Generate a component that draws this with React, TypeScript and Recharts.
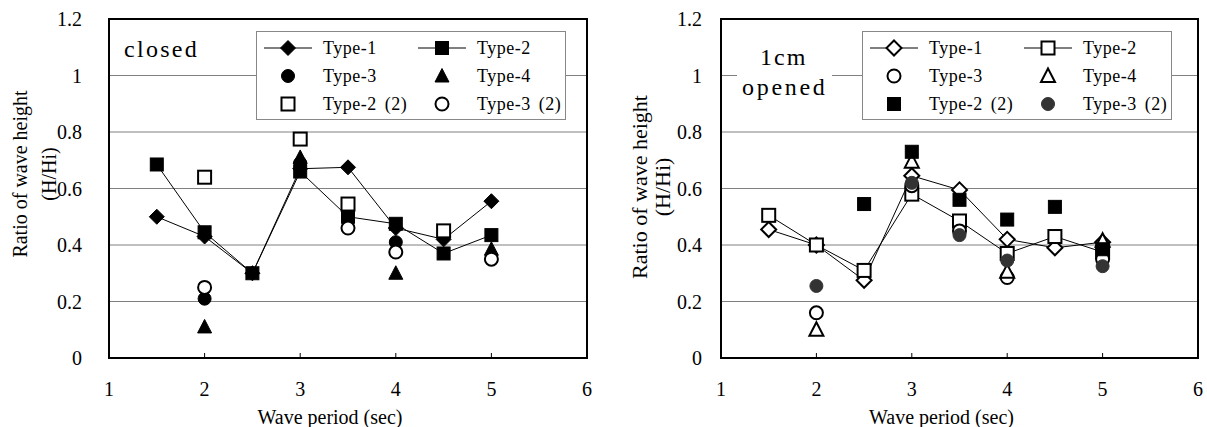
import React from "react";
import { CartesianGrid, Label, ReferenceArea, Scatter, ScatterChart, XAxis, YAxis } from "recharts";

// wave periods (sec) shared by every series
const periods = [1.5, 2, 2.5, 3, 3.5, 4, 4.5, 5];

// closed
const closedType1 = [0.5, 0.43, 0.3, 0.67, 0.675, 0.46, 0.42, 0.555];
const closedType2 = [0.685, 0.445, 0.3, 0.66, 0.5, 0.475, 0.37, 0.435];
const closedType3 = [null, 0.21, null, 0.69, 0.49, 0.41, null, null];
const closedType4 = [null, 0.11, null, 0.71, null, 0.3, null, 0.385];
const closedType2b = [null, 0.64, null, 0.775, 0.545, null, 0.45, null];
const closedType3b = [null, 0.25, null, null, 0.46, 0.375, null, 0.35];

// 1cm opened
const openType1 = [0.455, 0.4, 0.275, 0.645, 0.595, 0.42, 0.39, 0.41];
const openType2 = [0.505, 0.4, 0.31, 0.58, 0.485, 0.37, 0.43, 0.375];
const openType3 = [null, 0.16, null, 0.61, 0.45, 0.285, null, 0.35];
const openType4 = [null, 0.1, null, 0.695, null, 0.305, null, 0.415];
const openType2b = [null, null, 0.545, 0.73, 0.56, 0.49, 0.535, 0.385];
const openType3b = [null, 0.255, null, 0.62, 0.435, 0.345, null, 0.325];

const xTicks = [1, 2, 3, 4, 5, 6];
const yTicks = [0, 0.2, 0.4, 0.6, 0.8, 1, 1.2];
const yTickLabels = ["0", "0.2", "0.4", "0.6", "0.8", "1", "1.2"];

const FONT = '"Liberation Serif", "Times New Roman", Times, "DejaVu Serif", serif';

type Kind = "diamond" | "square" | "circle" | "triangle";

type Series = {
  name: string;
  values: (number | null)[];
  kind: Kind;
  filled: boolean;
  color: string;
  line: boolean;
};

const closedSeries: Series[] = [
  { name: "Type-1", values: closedType1, kind: "diamond", filled: true, color: "#000", line: true },
  { name: "Type-2", values: closedType2, kind: "square", filled: true, color: "#000", line: true },
  { name: "Type-3", values: closedType3, kind: "circle", filled: true, color: "#000", line: false },
  { name: "Type-4", values: closedType4, kind: "triangle", filled: true, color: "#000", line: false },
  { name: "Type-2 (2)", values: closedType2b, kind: "square", filled: false, color: "#000", line: false },
  { name: "Type-3 (2)", values: closedType3b, kind: "circle", filled: false, color: "#000", line: false },
];

const openSeries: Series[] = [
  { name: "Type-1", values: openType1, kind: "diamond", filled: false, color: "#000", line: true },
  { name: "Type-2", values: openType2, kind: "square", filled: false, color: "#000", line: true },
  { name: "Type-3", values: openType3, kind: "circle", filled: false, color: "#000", line: false },
  { name: "Type-4", values: openType4, kind: "triangle", filled: false, color: "#000", line: false },
  { name: "Type-2 (2)", values: openType2b, kind: "square", filled: true, color: "#000", line: false },
  { name: "Type-3 (2)", values: openType3b, kind: "circle", filled: true, color: "#333", line: false },
];

const toPoints = (values: (number | null)[]) =>
  periods.flatMap((x, i) => (values[i] == null ? [] : [{ x, y: values[i] }]));

function Marker({ cx, cy, kind, filled, color }: { cx?: number; cy?: number; kind: Kind; filled: boolean; color: string }) {
  if (cx == null || cy == null) return null;
  const fill = filled ? color : "#fff";
  const sw = filled ? 1 : 2;
  if (kind === "diamond") {
    return (
      <polygon
        points={`${cx},${cy - 7.5} ${cx + 7.5},${cy} ${cx},${cy + 7.5} ${cx - 7.5},${cy}`}
        fill={fill}
        stroke={color}
        strokeWidth={sw}
      />
    );
  }
  if (kind === "square") {
    return <rect x={cx - 6.5} y={cy - 6.5} width={13} height={13} fill={fill} stroke={color} strokeWidth={sw} />;
  }
  if (kind === "triangle") {
    return (
      <polygon
        points={`${cx},${cy - 7.5} ${cx + 7},${cy + 6} ${cx - 7},${cy + 6}`}
        fill={fill}
        stroke={color}
        strokeWidth={sw}
      />
    );
  }
  return <circle cx={cx} cy={cy} r={6.5} fill={fill} stroke={color} strokeWidth={sw} />;
}

const textStyle = { fontFamily: FONT };

function LegendBox({ series, left }: { series: Series[]; left: number }) {
  const colMarker = [31, 185];
  const colText = [66, 220];
  return (
    <div
      style={{
        position: "absolute",
        left,
        top: 31,
        width: 310,
        height: 89,
        background: "#fff",
        border: "1px solid #888",
        boxSizing: "border-box",
      }}
    >
      <svg width={310} height={89} style={{ position: "absolute", left: 0, top: 0 }}>
        {series.map((s, i) => {
          const col = i % 2;
          const row = Math.floor(i / 2);
          const cy = 16 + row * 28;
          const mx = colMarker[col];
          return (
            <g key={s.name}>
              {s.line && <line x1={mx - 24} x2={mx + 24} y1={cy} y2={cy} stroke="#000" strokeWidth={1} />}
              <Marker cx={mx} cy={cy} kind={s.kind} filled={s.filled} color={s.color} />
              <text
                x={colText[col]}
                y={cy + 6}
                style={textStyle}
                fontSize={18}
                letterSpacing={0.5}
                wordSpacing={3}
                fill="#000"
              >
                {s.name}
              </text>
            </g>
          );
        })}
      </svg>
    </div>
  );
}

function Panel({
  series,
  left,
  width,
  yAxisWidth,
  rightMargin,
  tickGap,
  titleX,
  titleY,
  titleSize,
  legendLeft,
  children,
}: {
  series: Series[];
  left: number;
  width: number;
  yAxisWidth: number;
  rightMargin: number;
  tickGap: number;
  titleX: [number, number];
  titleY: number;
  titleSize: number;
  legendLeft: number;
  children?: React.ReactNode;
}) {
  return (
    <div style={{ position: "absolute", left, top: 0, width, height: 427 }}>
      <ScatterChart width={width} height={427} margin={{ top: 19, right: rightMargin, bottom: 0, left: 0 }}>
        <CartesianGrid vertical={false} stroke="#808080" strokeWidth={1} />
        <XAxis
          type="number"
          dataKey="x"
          domain={[1, 6]}
          ticks={xTicks}
          allowDataOverflow
          axisLine={false}
          tickLine={{ stroke: "#000", strokeWidth: 1 }}
          tickSize={-5}
          tickMargin={29}
          height={69}
          tick={{ fill: "#000", fontSize: 20, style: textStyle }}
        >
          <Label
            value="Wave period (sec)"
            position="insideBottom"
            offset={3}
            dx={-18}
            fill="#000"
            fontSize={20}
            style={textStyle}
          />
        </XAxis>
        <YAxis
          type="number"
          dataKey="y"
          domain={[0, 1.2]}
          ticks={yTicks}
          allowDataOverflow
          width={yAxisWidth}
          axisLine={false}
          tickLine={false}
          tickSize={0}
          tickMargin={tickGap}
          tickFormatter={(_v: number, i: number) => yTickLabels[i]}
          tick={{ fill: "#000", fontSize: 20, style: textStyle }}
        />
        <ReferenceArea x1={1} x2={6} y1={0} y2={1.2} fill="none" stroke="#000" strokeWidth={2} />
        {series.map((s) => (
          <Scatter
            key={s.name}
            name={s.name}
            data={toPoints(s.values)}
            line={s.line ? { stroke: "#000", strokeWidth: 1 } : false}
            shape={(p: any) => <Marker cx={p.cx} cy={p.cy} kind={s.kind} filled={s.filled} color={s.color} />}
            isAnimationActive={false}
          />
        ))}
      </ScatterChart>
      <svg width={width} height={427} style={{ position: "absolute", left: 0, top: 0, pointerEvents: "none" }}>
        <text
          transform={`translate(${titleX[0]},${titleY}) rotate(-90)`}
          textAnchor="middle"
          dominantBaseline="central"
          style={textStyle}
          fontSize={titleSize}
          fill="#000"
        >
          Ratio of wave height
        </text>
        <text
          transform={`translate(${titleX[1]},${titleY}) rotate(-90)`}
          textAnchor="middle"
          dominantBaseline="central"
          style={textStyle}
          fontSize={titleSize}
          fill="#000"
        >
          (H/Hi)
        </text>
      </svg>
      {children}
      <LegendBox series={series} left={legendLeft} />
    </div>
  );
}

export default function App() {
  return (
    <div style={{ position: "absolute", left: 0, top: 0, width: 1207, height: 427, background: "#fff" }}>
      <Panel
        series={closedSeries}
        left={0}
        width={600}
        yAxisWidth={109}
        rightMargin={13}
        tickGap={27}
        titleX={[20, 49]}
        titleY={174}
        titleSize={20}
        legendLeft={256}
      >
        <svg width={600} height={427} style={{ position: "absolute", left: 0, top: 0, pointerEvents: "none" }}>
          <text x={124} y={57} style={textStyle} fontSize={24} letterSpacing={2.3} fill="#000">
            closed
          </text>
        </svg>
      </Panel>
      <Panel
        series={openSeries}
        left={600}
        width={607}
        yAxisWidth={121}
        rightMargin={9}
        tickGap={19}
        titleX={[39, 62]}
        titleY={187}
        titleSize={22}
        legendLeft={262}
      >
        <svg width={607} height={427} style={{ position: "absolute", left: 0, top: 0, pointerEvents: "none" }}>
          <rect x={137} y={38} width={95} height={64} fill="#fff" />
          <text x={160} y={65} style={textStyle} fontSize={24} letterSpacing={2} fill="#000">
            1cm
          </text>
          <text x={142} y={95} style={textStyle} fontSize={24} letterSpacing={2.7} fill="#000">
            opened
          </text>
        </svg>
      </Panel>
    </div>
  );
}
